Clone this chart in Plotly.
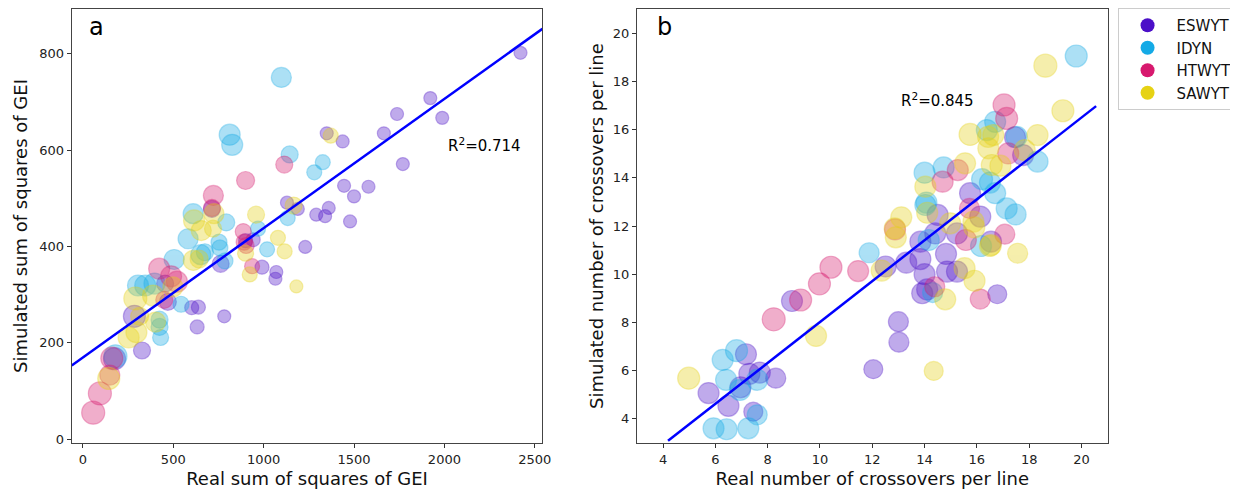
import plotly.graph_objects as go

# ---------------- data ----------------
groups = ["ESWYT", "IDYN", "HTWYT", "SAWYT"]
base_colors = {"ESWYT": (75, 15, 200), "IDYN": (20, 170, 230),
               "HTWYT": (215, 25, 110), "SAWYT": (230, 210, 20)}

# Panel a: real vs simulated sum of squares of GEI (bubble size = relative weight)
eswyt_a_x = [2421, 1922, 1988, 1738, 1665, 1349, 1437, 1770, 1445, 1500, 1580, 1360, 1291, 1340, 1478,
             1230, 1129, 1189, 900, 942, 1070, 1065, 991, 762, 782, 632, 602, 639, 470, 455, 327, 285, 175, 714]
eswyt_a_y = [802, 708, 667, 675, 635, 635, 618, 571, 526, 504, 524, 480, 466, 463, 452,
             399, 491, 478, 412, 414, 347, 333, 357, 364, 255, 233, 273, 274, 285, 323, 184, 255, 167, 478]
eswyt_a_s = [13, 13, 13, 13, 13, 13, 13, 13, 13, 13, 13, 13, 13, 13, 13,
             13, 13, 13, 14, 14, 13, 13, 14, 17, 13, 14, 14, 14, 17, 17, 17, 22, 22, 17]

idyn_a_x = [1098, 812, 826, 1144, 1327, 1280, 1133, 610, 793, 969, 1019, 582, 505, 652, 675, 753, 758, 786,
            345, 396, 305, 424, 424, 430, 543, 180]
idyn_a_y = [751, 632, 611, 591, 575, 554, 459, 468, 450, 437, 394, 416, 373, 383, 388, 409, 397, 370,
            319, 323, 319, 248, 233, 211, 280, 172]
idyn_a_s = [20, 21, 21, 17, 15, 15, 15, 20, 17, 15, 15, 20, 20, 20, 17, 16, 16, 16,
            21, 21, 21, 17, 17, 16, 16, 23]

htwyt_a_x = [1114, 900, 722, 714, 887, 892, 936, 903, 422, 488, 520, 450, 57, 94, 149, 160]
htwyt_a_y = [570, 537, 506, 480, 431, 409, 359, 402, 354, 338, 327, 289, 55, 95, 133, 168]
htwyt_a_s = [17, 18, 20, 17, 16, 16, 15, 16, 21, 21, 21, 17, 23, 23, 20, 22]

sawyt_a_x = [1371, 1166, 615, 655, 725, 720, 958, 900, 1079, 1116, 923, 1181, 611, 643,
             143, 253, 296, 314, 290, 402, 388, 498]
sawyt_a_y = [630, 485, 454, 433, 468, 437, 466, 386, 418, 390, 342, 317, 371, 374,
             126, 211, 222, 255, 292, 243, 298, 316]
sawyt_a_s = [15, 17, 21, 20, 20, 17, 17, 16, 15, 15, 15, 13, 20, 18,
             22, 21, 21, 18, 23, 20, 21, 20]

# Panel b: real vs simulated number of crossovers per line
eswyt_b_x = [5.74, 7.17, 6.50, 6.96, 7.30, 7.70, 8.31, 7.45, 8.93, 12.51, 13.30, 13.84, 13.84, 14.00, 13.91,
             13.00, 13.02, 12.04, 16.78, 14.10, 14.82, 14.86, 15.24, 17.46, 17.77, 15.74, 14.50, 16.13,
             14.41, 15.24, 16.54]
eswyt_b_y = [5.07, 6.68, 4.54, 5.31, 5.87, 5.92, 5.69, 4.30, 8.89, 10.32, 10.48, 10.63, 11.35, 10.00, 9.21,
             8.03, 7.18, 6.06, 9.17, 9.37, 10.84, 10.11, 10.11, 15.68, 14.94, 13.36, 12.46, 12.39,
             11.69, 11.69, 11.35]
eswyt_b_s = [21, 21, 21, 21, 21, 21, 20, 19, 21, 21, 21, 21, 21, 21, 21,
             20, 20, 19, 19, 21, 21, 21, 21, 21, 21, 21, 21, 21, 21, 21, 21]

idyn_b_x = [6.28, 6.81, 6.41, 6.94, 7.60, 7.60, 5.93, 6.43, 7.26, 11.88, 14.03, 14.31, 16.16, 19.80,
            16.70, 16.38, 17.52, 18.32, 14.00, 14.73, 16.20, 16.50, 16.70, 14.07, 17.14, 17.48, 14.16]
idyn_b_y = [6.45, 6.83, 5.62, 5.20, 5.62, 4.17, 3.61, 3.57, 3.61, 10.89, 12.87, 9.24, 11.17, 19.05,
            16.32, 15.98, 15.70, 14.67, 14.21, 14.43, 13.94, 13.80, 13.36, 12.97, 12.73, 12.48, 11.42]
idyn_b_s = [21, 22, 21, 21, 21, 20, 21, 21, 21, 20, 21, 20, 21, 22,
            21, 21, 21, 21, 21, 21, 21, 21, 21, 21, 21, 21, 21]

htwyt_b_x = [8.23, 9.26, 9.98, 10.42, 11.46, 12.87, 16.13, 14.39, 17.04, 17.14, 17.20, 15.27, 14.69,
             15.72, 15.58, 17.07]
htwyt_b_y = [8.13, 8.93, 9.60, 10.29, 10.13, 11.86, 8.97, 9.48, 17.02, 16.46, 15.01, 14.32, 13.84,
             12.73, 11.42, 11.66]
htwyt_b_s = [23, 22, 22, 22, 21, 21, 20, 20, 22, 22, 21, 21, 21, 20, 21, 20]

sawyt_b_x = [4.98, 9.85, 12.36, 12.86, 13.11, 12.90, 14.03, 14.35, 14.79, 15.53, 15.91, 17.56, 16.50,
             18.62, 19.29, 15.74, 16.43, 16.63, 18.32, 16.44, 17.83, 16.57, 15.55, 14.10, 15.87, 14.98,
             15.90, 16.54, 16.90]
sawyt_b_y = [5.69, 7.44, 10.15, 11.90, 12.36, 11.53, 13.63, 5.99, 8.96, 10.25, 9.73, 10.87, 11.17,
             18.65, 16.78, 15.80, 15.70, 15.77, 15.77, 15.22, 15.15, 14.53, 14.60, 12.55, 12.18, 12.11,
             11.94, 11.21, 14.50]
sawyt_b_s = [22, 21, 21, 21, 21, 21, 21, 19, 21, 21, 21, 20, 21,
             23, 22, 22, 21, 21, 21, 21, 21, 21, 21, 21, 21, 21, 21, 21, 21]

# regression fits (slope, intercept) and R^2 labels
fit_a = (0.2684, 169.6)
fit_b = (0.848, -0.463)
fit_b_xspan = (4.19, 20.56)
r2_a = "0.714"
r2_b = "0.845"

x_title_a = "Real sum of squares of GEI"
y_title_a = "Simulated sum of squares of GEI"
x_title_b = "Real number of crossovers per line"
y_title_b = "Simulated number of crossovers per line"

xrange_a = [-62, 2542]
yrange_a = [-8, 893]
xrange_b = [3.0, 21.0]
yrange_b = [3.0, 21.0]
xticks_a = [0, 500, 1000, 1500, 2000, 2500]
yticks_a = [0, 200, 400, 600, 800]
ticks_b = [4, 6, 8, 10, 12, 14, 16, 18, 20]

panel_a = {"ESWYT": (eswyt_a_x, eswyt_a_y, eswyt_a_s), "IDYN": (idyn_a_x, idyn_a_y, idyn_a_s),
           "HTWYT": (htwyt_a_x, htwyt_a_y, htwyt_a_s), "SAWYT": (sawyt_a_x, sawyt_a_y, sawyt_a_s)}
panel_b = {"ESWYT": (eswyt_b_x, eswyt_b_y, eswyt_b_s), "IDYN": (idyn_b_x, idyn_b_y, idyn_b_s),
           "HTWYT": (htwyt_b_x, htwyt_b_y, htwyt_b_s), "SAWYT": (sawyt_b_x, sawyt_b_y, sawyt_b_s)}


def rgba(c, a):
    return "rgba(%d,%d,%d,%.2f)" % (c[0], c[1], c[2], a)


FONT = "DejaVu Sans"
W, H = 1230, 485   # page body has an 8px margin; keep the figure inside the 1238x493 window
fig = go.Figure()

for panel, xa, ya in ((panel_a, "x", "y"), (panel_b, "x2", "y2")):
    for g in groups:
        x, y, s = panel[g]
        c = base_colors[g]
        fig.add_trace(go.Scatter(
            x=x, y=y, mode="markers", xaxis=xa, yaxis=ya, showlegend=False, hoverinfo="skip",
            marker=dict(size=s, sizemode="diameter", color=rgba(c, 0.5),
                        line=dict(color=rgba(c, 0.5), width=1.2))))

# regression lines
xa0, xa1 = xrange_a
fig.add_trace(go.Scatter(x=[xa0, xa1], y=[fit_a[0] * xa0 + fit_a[1], fit_a[0] * xa1 + fit_a[1]],
                         mode="lines", line=dict(color="#0000ff", width=2.5),
                         xaxis="x", yaxis="y", showlegend=False, hoverinfo="skip"))
xb0, xb1 = fit_b_xspan
fig.add_trace(go.Scatter(x=[xb0, xb1], y=[fit_b[0] * xb0 + fit_b[1], fit_b[0] * xb1 + fit_b[1]],
                         mode="lines", line=dict(color="#0000ff", width=2.5),
                         xaxis="x2", yaxis="y2", showlegend=False, hoverinfo="skip"))

# legend entries (solid markers)
for g in groups:
    fig.add_trace(go.Scatter(x=[None], y=[None], mode="markers", name=g, xaxis="x2", yaxis="y2",
                             marker=dict(size=14, color=rgba(base_colors[g], 1.0))))

axis_common = dict(showgrid=False, zeroline=False, showline=True, mirror=True, linecolor="#444",
                   linewidth=1.2, ticks="outside", ticklen=4, tickwidth=1, tickcolor="#333",
                   automargin=False,
                   tickfont=dict(family=FONT, size=13, color="#222"))

yd = [50 / H, 1 - 1 / H]
fig.update_layout(
    width=W, height=H, autosize=False,
    margin=dict(l=0, r=0, t=0, b=0),
    paper_bgcolor="white", plot_bgcolor="white",
    font=dict(family=FONT, color="#111"),
    xaxis=dict(domain=[64 / W, 537 / W], range=xrange_a, tickvals=xticks_a, anchor="y",
               title=dict(text=x_title_a, font=dict(size=18), standoff=6), **axis_common),
    yaxis=dict(domain=yd, range=yrange_a, tickvals=yticks_a, anchor="x",
               title=dict(text=y_title_a, font=dict(size=18), standoff=6), **axis_common),
    xaxis2=dict(domain=[632 / W, 1105 / W], range=xrange_b, tickvals=ticks_b, anchor="y2",
                title=dict(text=x_title_b, font=dict(size=18), standoff=6), **axis_common),
    yaxis2=dict(domain=yd, range=yrange_b, tickvals=ticks_b, anchor="x2",
                title=dict(text=y_title_b, font=dict(size=18), standoff=4), **axis_common),
    legend=dict(x=1115 / W, y=1.0, xanchor="left", yanchor="top", bgcolor="white",
                bordercolor="#cccccc", borderwidth=1, font=dict(family=FONT, size=15, color="#111"),
                itemwidth=48, tracegroupgap=0),
    annotations=[
        dict(text="a", xref="paper", yref="paper", x=79 / W, y=1 - 19 / H, xanchor="left", yanchor="middle",
             showarrow=False, font=dict(size=24, family=FONT, color="black")),
        dict(text="b", xref="paper", yref="paper", x=650 / W, y=1 - 19 / H, xanchor="left", yanchor="middle",
             showarrow=False, font=dict(size=24, family=FONT, color="black")),
        dict(text="R<sup>2</sup>=" + r2_a, xref="x", yref="y", x=2007, y=611, xanchor="left",
             yanchor="middle", showarrow=False, font=dict(size=15, family=FONT, color="black")),
        dict(text="R<sup>2</sup>=" + r2_b, xref="x2", yref="y2", x=13.01, y=17.22, xanchor="left",
             yanchor="middle", showarrow=False, font=dict(size=15, family=FONT, color="black")),
    ],
)

fig.write_html("out.html")
